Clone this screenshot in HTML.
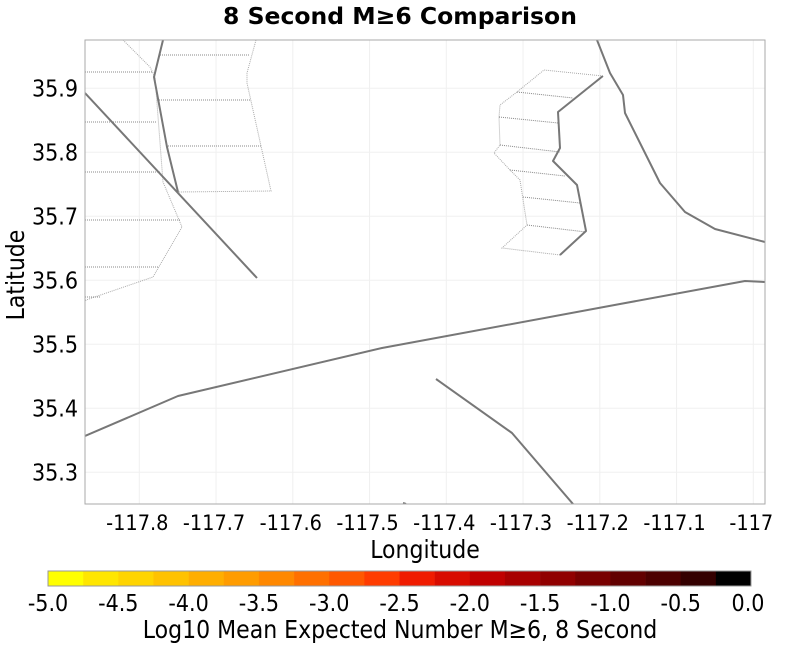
<!DOCTYPE html>
<html><head><meta charset="utf-8"><style>
html,body{margin:0;padding:0;background:#fff;}
svg{display:block;font-family:"DejaVu Sans Condensed","DejaVu Sans","Liberation Sans",sans-serif;}
.c{font-stretch:condensed;}
</style></head><body>
<svg id="chart" width="800" height="650" viewBox="0 0 800 650">
<text x="400" y="24" text-anchor="middle" font-size="23.5" font-weight="bold" font-family="DejaVu Sans, sans-serif">8 Second M≥6 Comparison</text>
<g id="grid"></g>
<g id="plot"></g>
<rect x="85" y="40" width="680" height="464" fill="none" stroke="#aaa" stroke-width="1"/>
<g id="xticks"></g>
<g id="yticks"></g>
<text class="c" x="425" y="558" text-anchor="middle" font-size="24.5">Longitude</text>
<text class="c" transform="translate(24,275) rotate(-90)" text-anchor="middle" font-size="24.5">Latitude</text>
<g id="cbar"></g>
<text class="c" x="400" y="638" text-anchor="middle" font-size="24.5">Log10 Mean Expected Number M≥6, 8 Second</text>
</svg>
<script>
const xTicks = [-117.8,-117.7,-117.6,-117.5,-117.4,-117.3,-117.2,-117.1,-117.0];
const xTickLabels = ["-117.8","-117.7","-117.6","-117.5","-117.4","-117.3","-117.2","-117.1","-117"];
const yTicks = [35.9,35.8,35.7,35.6,35.5,35.4,35.3];
const yTickLabels = ["35.9","35.8","35.7","35.6","35.5","35.4","35.3"];
const cbarTicks = [-5,-4.5,-4,-3.5,-3,-2.5,-2,-1.5,-1,-0.5,0];
const cbarTickLabels = ["-5.0","-4.5","-4.0","-3.5","-3.0","-2.5","-2.0","-1.5","-1.0","-0.5","0.0"];
const cbarColors = ["#ffff00","#ffe600","#ffd400","#ffc200","#ffae00","#ff9c00","#ff8800","#ff7000","#ff5800","#ff3c00","#f01c00","#d80c00","#c00000","#a80000","#900000","#780000","#620000","#4c0000","#340000","#000000"];

const faultTraces = [
 [[-117.7691,35.9755],[-117.7808,35.9177],[-117.7639,35.8083],[-117.7496,35.7380]],
 [[-117.8708,35.8927],[-117.6466,35.6036]],
 [[-117.8708,35.3567],[-117.7496,35.4192],[-117.4838,35.4942],[-117.1737,35.5630],[-117.0108,35.5989],[-116.9848,35.5973]],
 [[-117.4134,35.4458],[-117.3144,35.3614],[-117.2349,35.2505]],
 [[-117.4564,35.2520],[-117.4525,35.2505]],
 [[-117.2037,35.9755],[-117.1867,35.9239],[-117.1698,35.8895],[-117.1672,35.8614],[-117.1216,35.7520],[-117.0890,35.7067],[-117.0499,35.6802],[-116.9848,35.6598]],
 [[-117.1959,35.9192],[-117.2545,35.8630],[-117.2519,35.8067],[-117.2610,35.7864],[-117.2297,35.7489],[-117.2180,35.6770],[-117.2519,35.6395]]
];
const ruptureOutlines = [
 [[-117.8212,35.9755],[-117.7861,35.9333],[-117.7795,35.9177],[-117.7691,35.7536],[-117.7444,35.6833],[-117.7822,35.6052],[-117.8694,35.5692],[-117.8708,35.5661]],
 [[-117.6480,35.9755],[-117.6597,35.9239],[-117.6597,35.9083],[-117.6284,35.7395],[-117.7496,35.7380]],
 [[-117.1959,35.9192],[-117.2727,35.9286],[-117.3079,35.8942],[-117.3300,35.8739],[-117.3313,35.8552],[-117.3300,35.8114],[-117.3379,35.7989],[-117.3170,35.7723],[-117.3040,35.7567],[-117.2949,35.6864],[-117.3274,35.6505],[-117.2519,35.6395]]
];
const ruptureRows = [
 [[-117.8708,35.9255],[-117.7835,35.9255]],
 [[-117.8708,35.8473],[-117.7770,35.8473]],
 [[-117.8708,35.7692],[-117.7717,35.7692]],
 [[-117.8708,35.6942],[-117.7457,35.6942]],
 [[-117.8708,35.6208],[-117.7757,35.6208]],
 [[-117.8708,35.5739],[-117.8512,35.5739]],
 [[-117.7730,35.9520],[-117.6571,35.9520]],
 [[-117.7770,35.8817],[-117.6558,35.8817]],
 [[-117.7652,35.8098],[-117.6402,35.8098]],
 [[-117.3079,35.8942],[-117.2349,35.8848]],
 [[-117.3313,35.8552],[-117.2545,35.8458]],
 [[-117.3300,35.8114],[-117.2519,35.8005]],
 [[-117.3170,35.7723],[-117.2454,35.7630]],
 [[-117.3001,35.7302],[-117.2258,35.7208]],
 [[-117.2949,35.6864],[-117.2180,35.6755]]
];

const NS='http://www.w3.org/2000/svg';
const PL=85,PR=765,PT=40,PB=504;
function X(lon){return 139.3+(lon+117.8)*767.5;}
function Y(lat){return 88.3-(lat-35.9)*640;}
function mk(tag,parent){const e=document.createElementNS(NS,tag);parent.appendChild(e);return e;}
const grid=document.getElementById('grid'),plot=document.getElementById('plot');
const xt=document.getElementById('xticks'),yt=document.getElementById('yticks'),cb=document.getElementById('cbar');

xTicks.forEach((v,i)=>{
 const l=mk('line',grid);
 
 
 l.setAttribute('x1',X(v));l.setAttribute('x2',X(v));l.setAttribute('y1',PT);l.setAttribute('y2',PB);
 l.setAttribute('stroke','#f0f0f0');
 const t=mk('text',xt);
 
 
 t.setAttribute('class','c');
 t.setAttribute('x',X(v)-2);t.setAttribute('y',530);t.setAttribute('text-anchor','middle');t.setAttribute('font-size','21.5');
 t.textContent=xTickLabels[i];
});
yTicks.forEach((v,i)=>{
 const l=mk('line',grid);
 
 
 l.setAttribute('x1',PL);l.setAttribute('x2',PR);l.setAttribute('y1',Y(v));l.setAttribute('y2',Y(v));
 l.setAttribute('stroke','#f0f0f0');
 const t=mk('text',yt);
 
 
 t.setAttribute('class','c');
 t.setAttribute('x',78);t.setAttribute('y',Y(v)+8);t.setAttribute('text-anchor','end');t.setAttribute('font-size','23');
 t.textContent=yTickLabels[i];
});
function pts(a){return a.map(p=>X(p[0]).toFixed(1)+','+Y(p[1]).toFixed(1)).join(' ');}
const clip=mk('clipPath',plot);clip.setAttribute('id','pc');
const cr=mk('rect',clip);cr.setAttribute('x',PL);cr.setAttribute('y',PT);cr.setAttribute('width',PR-PL);cr.setAttribute('height',PB-PT);
const g=mk('g',plot);g.setAttribute('clip-path','url(#pc)');
ruptureOutlines.forEach(a=>{
 const p=mk('polyline',g);
 
 
 p.setAttribute('points',pts(a));p.setAttribute('fill','none');p.setAttribute('stroke','#aaa');p.setAttribute('stroke-width','1');p.setAttribute('stroke-dasharray','1,1');
});
ruptureRows.forEach(a=>{
 const p=mk('polyline',g);
 
 
 p.setAttribute('points',pts(a));p.setAttribute('fill','none');p.setAttribute('stroke','#888');p.setAttribute('stroke-width','1');p.setAttribute('stroke-dasharray','1,1');
});
faultTraces.forEach(a=>{
 const p=mk('polyline',g);
 
 
 p.setAttribute('points',pts(a));p.setAttribute('fill','none');p.setAttribute('stroke','#777');p.setAttribute('stroke-width','2');p.setAttribute('stroke-linejoin','round');
});
const CX0=48,CX1=751,CY=571,CH=15;
function CV(v){return CX0+(v+5)/5*(CX1-CX0);}
cbarColors.forEach((c,i)=>{
 const r=mk('rect',cb);
 
 
 const v0=-5+i*0.25;
 r.setAttribute('x',CV(v0));r.setAttribute('y',CY);r.setAttribute('width',CV(v0+0.25)-CV(v0)+0.3);r.setAttribute('height',CH);r.setAttribute('fill',c);
});
const fr=mk('rect',cb);


fr.setAttribute('x',CX0);fr.setAttribute('y',CY);fr.setAttribute('width',CX1-CX0);fr.setAttribute('height',CH);fr.setAttribute('fill','none');fr.setAttribute('stroke','#999');
cbarTicks.forEach((v,i)=>{
 const t=mk('text',cb);
 
 
 t.setAttribute('class','c');
 t.setAttribute('x',CV(v)+(i==10?-3:0));t.setAttribute('y',611);t.setAttribute('text-anchor','middle');t.setAttribute('font-size','23');
 t.textContent=cbarTickLabels[i];
});
</script>
</body></html>
